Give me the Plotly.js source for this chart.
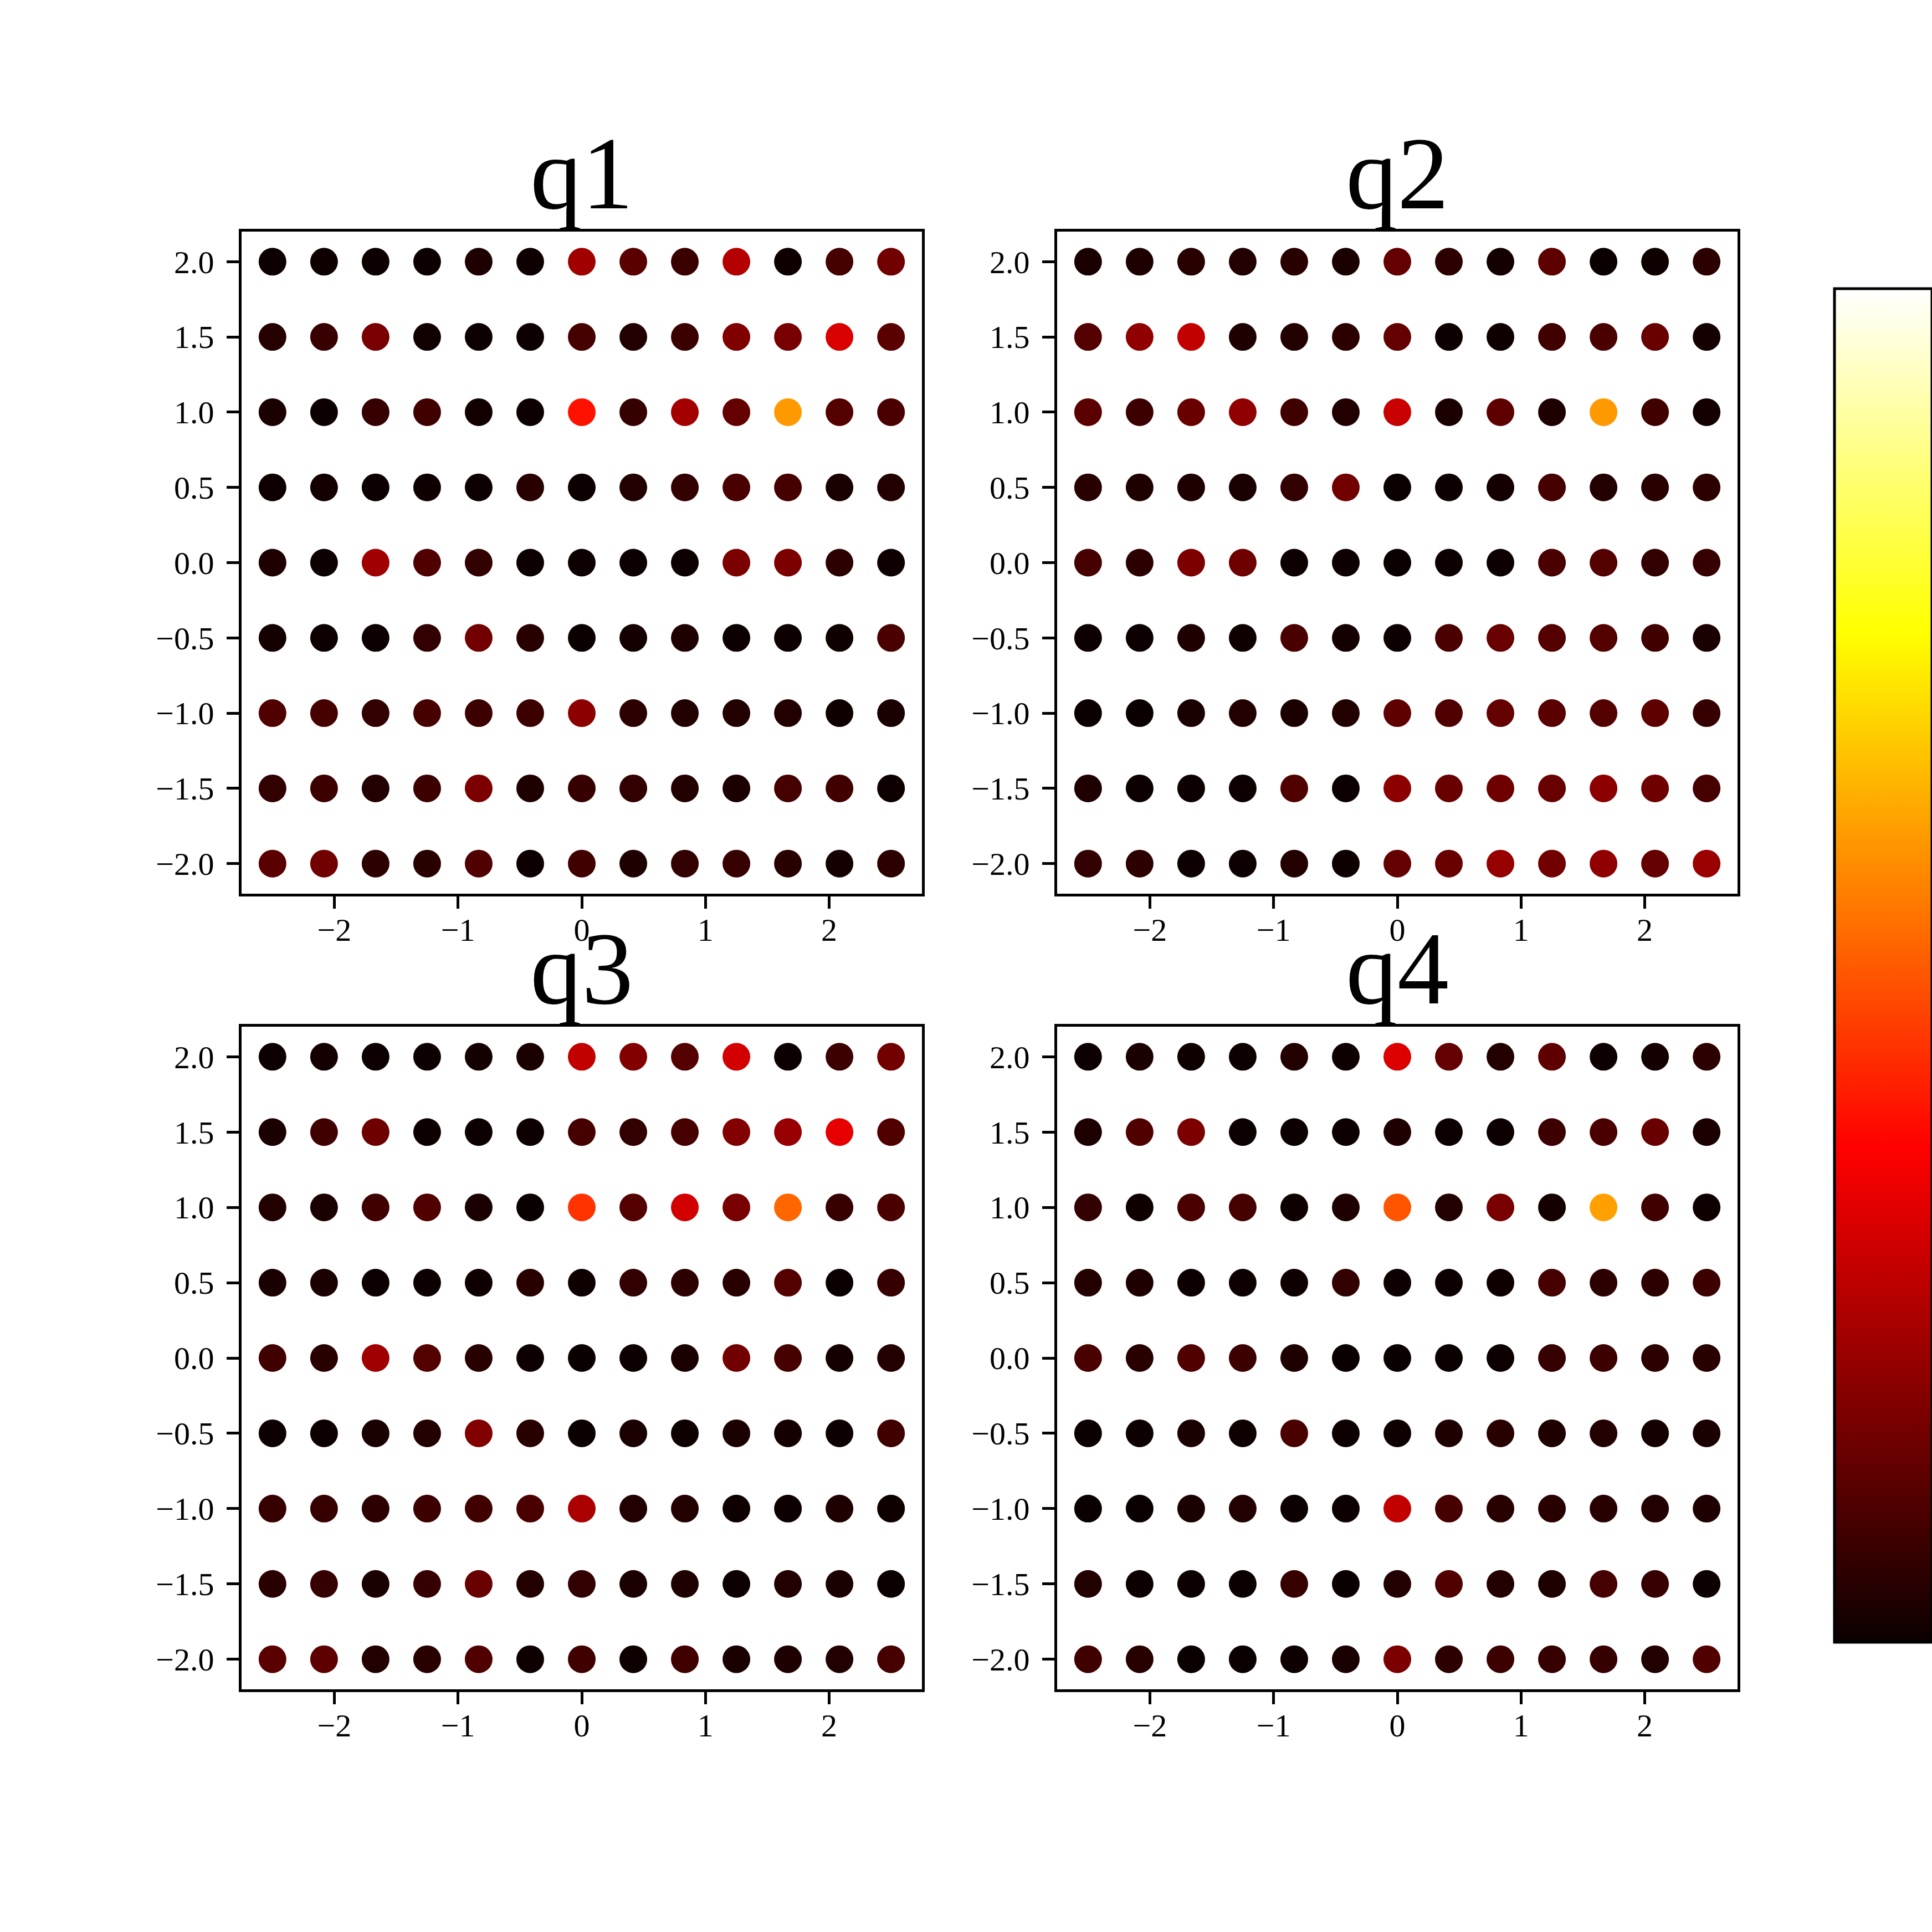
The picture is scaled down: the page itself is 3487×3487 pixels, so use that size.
<!DOCTYPE html>
<html>
<head>
<meta charset="utf-8">
<script src="https://cdn.plot.ly/plotly-3.0.1.min.js"></script>
<style>html,body{margin:0;padding:0;background:#fff;}#chart{width:3487px;height:3487px;}</style>
</head>
<body>
<div id="chart"></div>
<script>
// grid coordinates
const xVals = [-2.5, -2.0833, -1.6667, -1.25, -0.8333, -0.4167, 0, 0.4167, 0.8333, 1.25, 1.6667, 2.0833, 2.5];
const yVals = [2.0, 1.5, 1.0, 0.5, 0.0, -0.5, -1.0, -1.5, -2.0];

// panel titles
const panelTitles = ['q1', 'q2', 'q3', 'q4'];

// tick labels
const xTickVals = [-2, -1, 0, 1, 2];
const xTickText = ['\u22122', '\u22121', '0', '1', '2'];
const yTickVals = [2.0, 1.5, 1.0, 0.5, 0.0, -0.5, -1.0, -1.5, -2.0];
const yTickText = ['2.0', '1.5', '1.0', '0.5', '0.0', '\u22120.5', '\u22121.0', '\u22121.5', '\u22122.0'];

// values, rows from y = 2.0 (top) to y = -2.0 (bottom)
const q1 = [
  [0.002,0.006,0.003,0.002,0.029,0.006,0.223,0.118,0.070,0.253,0.006,0.087,0.152],
  [0.040,0.068,0.163,0.008,0.001,0.003,0.087,0.035,0.070,0.175,0.163,0.307,0.118],
  [0.022,0.003,0.066,0.081,0.010,0.001,0.390,0.066,0.230,0.133,0.594,0.111,0.096],
  [0.006,0.014,0.001,0.006,0.003,0.044,0.001,0.036,0.059,0.096,0.089,0.022,0.036],
  [0.029,0.003,0.223,0.104,0.059,0.003,0.001,0.003,0.003,0.171,0.171,0.051,0.006],
  [0.014,0.003,0.001,0.059,0.156,0.044,0.000,0.014,0.029,0.002,0.002,0.006,0.096],
  [0.104,0.089,0.059,0.089,0.074,0.074,0.193,0.051,0.036,0.036,0.036,0.006,0.022],
  [0.059,0.074,0.036,0.074,0.171,0.029,0.066,0.059,0.036,0.022,0.089,0.081,0.006],
  [0.118,0.156,0.051,0.044,0.104,0.001,0.081,0.029,0.059,0.066,0.044,0.014,0.051]
];
const q2 = [
  [0.022,0.029,0.044,0.036,0.044,0.022,0.133,0.051,0.014,0.126,0.000,0.006,0.051],
  [0.111,0.200,0.275,0.029,0.036,0.051,0.133,0.001,0.006,0.081,0.096,0.141,0.014],
  [0.118,0.074,0.141,0.200,0.081,0.036,0.283,0.022,0.126,0.029,0.594,0.081,0.014],
  [0.044,0.029,0.029,0.022,0.059,0.156,0.000,0.003,0.014,0.089,0.036,0.044,0.051],
  [0.089,0.051,0.171,0.148,0.003,0.001,0.000,0.001,0.003,0.096,0.111,0.059,0.066],
  [0.003,0.003,0.029,0.006,0.096,0.014,0.003,0.096,0.141,0.111,0.111,0.081,0.022],
  [0.000,0.000,0.022,0.036,0.022,0.036,0.126,0.104,0.133,0.118,0.111,0.126,0.066],
  [0.029,0.001,0.003,0.001,0.104,0.001,0.193,0.141,0.148,0.141,0.193,0.148,0.089],
  [0.059,0.051,0.001,0.003,0.036,0.006,0.133,0.141,0.208,0.156,0.200,0.133,0.216]
];
const q3 = [
  [0.003,0.014,0.003,0.001,0.014,0.022,0.275,0.178,0.111,0.298,0.003,0.074,0.156],
  [0.022,0.081,0.148,0.001,0.003,0.003,0.089,0.059,0.089,0.178,0.208,0.328,0.104],
  [0.036,0.022,0.081,0.104,0.022,0.000,0.441,0.111,0.298,0.163,0.517,0.066,0.096],
  [0.022,0.022,0.003,0.001,0.006,0.044,0.006,0.059,0.051,0.044,0.111,0.000,0.066],
  [0.081,0.044,0.223,0.111,0.044,0.003,0.000,0.003,0.022,0.156,0.089,0.014,0.036],
  [0.001,0.001,0.022,0.036,0.178,0.044,0.000,0.022,0.006,0.022,0.014,0.001,0.081],
  [0.066,0.066,0.051,0.074,0.081,0.096,0.238,0.036,0.036,0.006,0.003,0.029,0.006],
  [0.044,0.066,0.022,0.066,0.141,0.036,0.059,0.022,0.029,0.003,0.036,0.022,0.000],
  [0.118,0.126,0.036,0.044,0.104,0.006,0.081,0.006,0.081,0.022,0.029,0.036,0.089]
];
const q4 = [
  [0.001,0.022,0.006,0.001,0.036,0.006,0.313,0.133,0.036,0.126,0.003,0.014,0.051],
  [0.029,0.104,0.171,0.001,0.001,0.003,0.029,0.001,0.001,0.074,0.096,0.141,0.022],
  [0.059,0.006,0.096,0.089,0.006,0.029,0.490,0.036,0.163,0.014,0.604,0.081,0.006],
  [0.036,0.029,0.001,0.001,0.006,0.059,0.001,0.001,0.006,0.089,0.051,0.051,0.074],
  [0.096,0.044,0.104,0.074,0.029,0.000,0.000,0.000,0.001,0.066,0.074,0.051,0.044],
  [0.000,0.001,0.022,0.006,0.096,0.001,0.006,0.029,0.044,0.029,0.036,0.014,0.022],
  [0.000,0.000,0.022,0.036,0.003,0.003,0.275,0.089,0.044,0.044,0.044,0.036,0.029],
  [0.036,0.003,0.001,0.000,0.066,0.000,0.036,0.104,0.036,0.029,0.089,0.066,0.003],
  [0.081,0.044,0.000,0.000,0.006,0.022,0.171,0.051,0.074,0.066,0.066,0.036,0.104]
];

const panels = [q1, q2, q3, q4];

// matplotlib "hot"
const hotScale = [
  [0.0, 'rgb(11,0,0)'],
  [0.365079, 'rgb(255,0,0)'],
  [0.746032, 'rgb(255,255,0)'],
  [1.0, 'rgb(255,255,255)']
];

const W = 3487;
const font = 'Liberation Serif, Times New Roman, serif';

const xDomains = [[436/W, 1664/W], [1908/W, 3136/W]];
const yDomains = [[1 - 1613/W, 1 - 418/W], [1 - 3049/W, 1 - 1853/W]];

const traces = [];
const layout = {
  width: W, height: W,
  margin: {l: 0, r: 0, t: 0, b: 0, autoexpand: false},
  paper_bgcolor: '#fff', plot_bgcolor: '#fff',
  showlegend: false,
  hovermode: false,
  font: {family: font, color: '#000'},
  coloraxis: {
    colorscale: hotScale, cmin: 0, cmax: 1,
    colorbar: {
      x: 3311/W, xanchor: 'left', xref: 'paper',
      y: 1 - 521/W, yanchor: 'top', yref: 'paper',
      lenmode: 'pixels', len: 2443,
      thicknessmode: 'pixels', thickness: 176,
      outlinewidth: 5, outlinecolor: '#000',
      showticklabels: false, ticks: '',
      xpad: 0, ypad: 0, borderwidth: 0
    }
  },
  annotations: []
};

panels.forEach((vals, i) => {
  const xs = [], ys = [], cs = [];
  vals.forEach((row, r) => {
    row.forEach((v, c) => { xs.push(xVals[c]); ys.push(yVals[r]); cs.push(v); });
  });
  const n = i + 1;
  const xa = n === 1 ? 'x' : 'x' + n;
  const ya = n === 1 ? 'y' : 'y' + n;
  traces.push({
    type: 'scatter', mode: 'markers', x: xs, y: ys,
    xaxis: xa, yaxis: ya,
    marker: {size: 50, color: cs, coloraxis: 'coloraxis', line: {width: 0}},
    hoverinfo: 'skip'
  });
  const xd = xDomains[i % 2], yd = yDomains[Math.floor(i / 2)];
  const axCommon = {
    showline: true, mirror: true, linecolor: '#000', linewidth: 5,
    showgrid: false, zeroline: false,
    ticks: 'outside', ticklen: 22, tickwidth: 5, tickcolor: '#000',
    tickfont: {family: font, size: 58, color: '#000'},
    tickmode: 'array', fixedrange: true
  };
  layout['xaxis' + (n === 1 ? '' : n)] = Object.assign({}, axCommon, {
    domain: xd, range: [-2.75, 2.75], anchor: ya,
    tickvals: xTickVals, ticktext: xTickText, ticklabelstandoff: -12
  });
  layout['yaxis' + (n === 1 ? '' : n)] = Object.assign({}, axCommon, {
    domain: yd, range: [-2.2, 2.2], anchor: xa,
    tickvals: yTickVals, ticktext: yTickText, ticklabelstandoff: 11
  });
  layout.annotations.push({
    text: panelTitles[i], showarrow: false,
    xref: 'paper', yref: 'paper',
    x: (xd[0] + xd[1]) / 2, y: yd[1], xanchor: 'center', yanchor: 'bottom',
    font: {family: font, size: 186, color: '#000'}
  });
});

Plotly.newPlot('chart', traces, layout, {staticPlot: true, displayModeBar: false});
</script>
</body>
</html>
